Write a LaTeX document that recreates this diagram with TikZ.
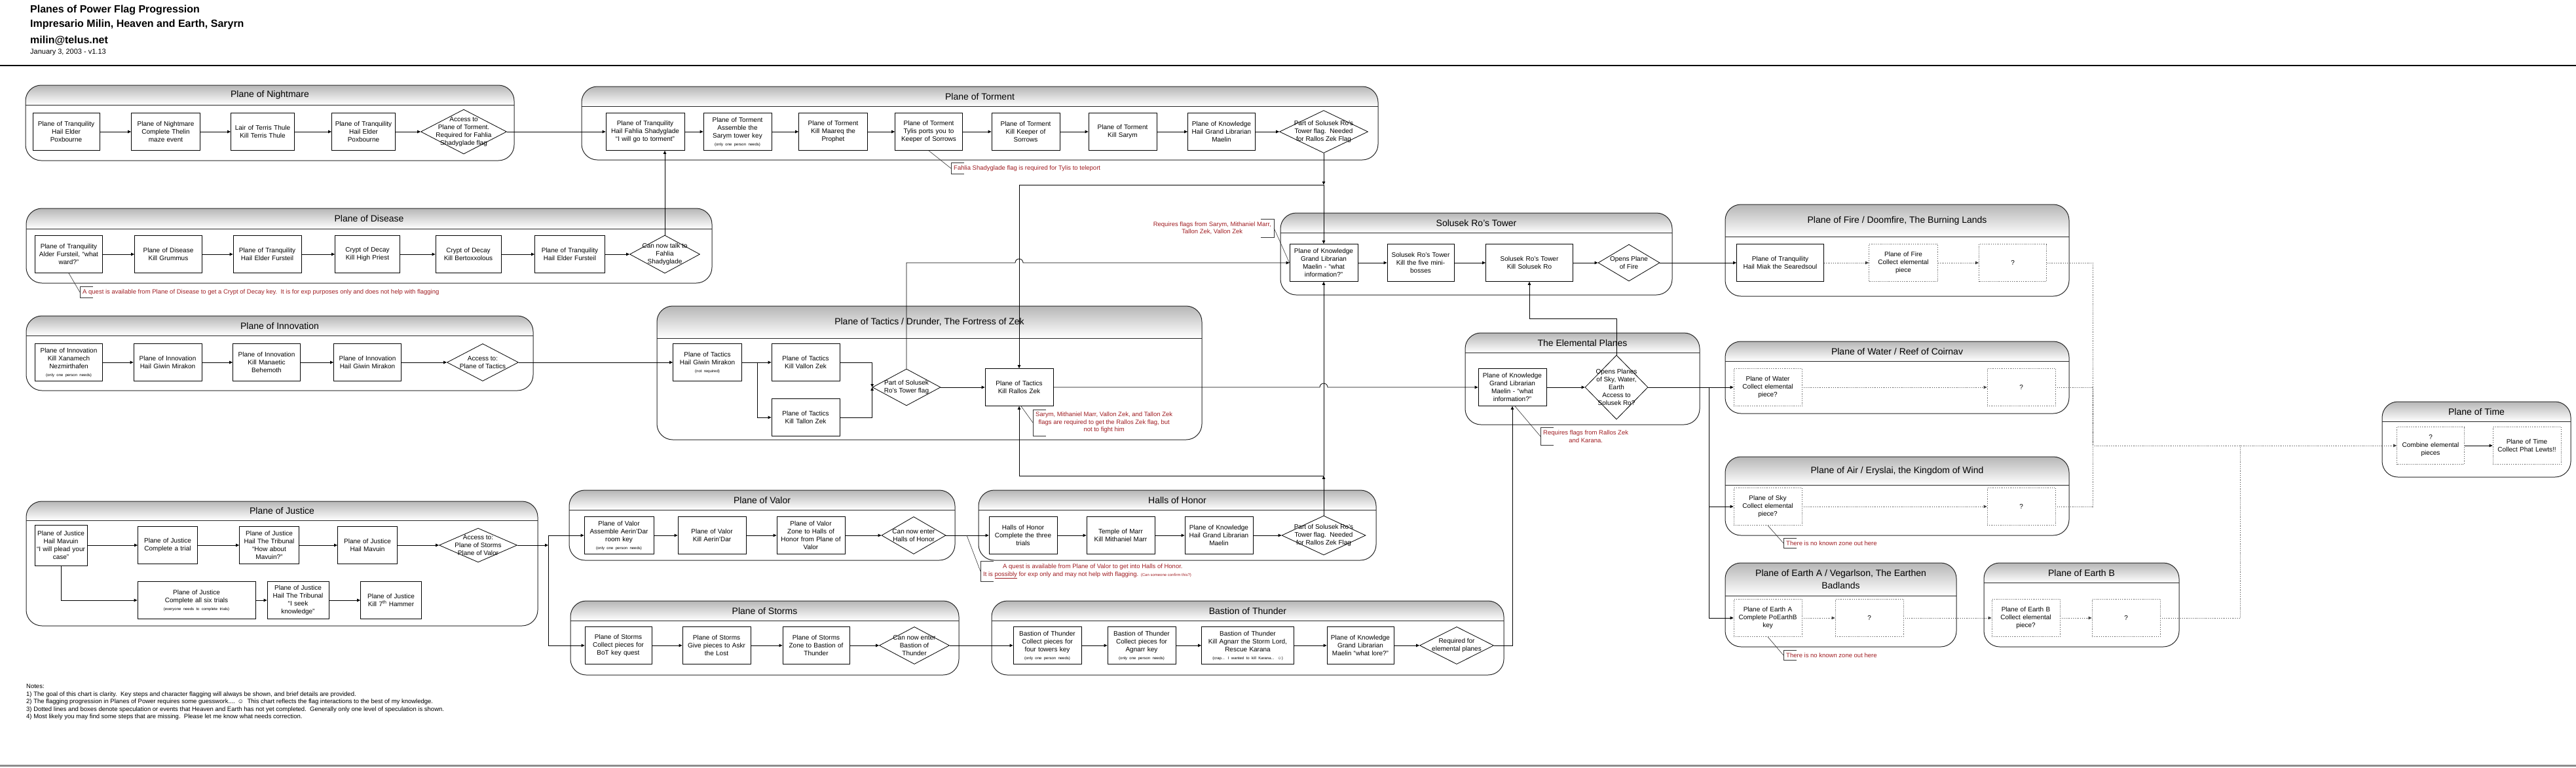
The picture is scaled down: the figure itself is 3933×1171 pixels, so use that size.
\documentclass[tikz,border=0pt]{standalone}
\usepackage{fontspec}
\setmainfont{Liberation Sans}
\usetikzlibrary{shapes.geometric,arrows.meta}

\definecolor{notered}{RGB}{160,30,35}
\definecolor{lanegray}{RGB}{182,182,182}

\newcommand{\boxfont}{\fontsize{10}{12}\selectfont}
\newcommand{\tinyfont}{\fontsize{6}{7}\selectfont}
\newcommand{\lanefont}{\fontsize{14}{19}\selectfont}
\newcommand{\notefont}{\fontsize{9.5}{11.5}\selectfont}
\newcommand{\headfont}{\fontsize{16}{19}\bfseries\selectfont}
\newcommand{\datefont}{\fontsize{11}{13}\selectfont}

% lane: name, x1, y1, x2, y2, y of header line, title
\newcommand{\poplane}[7]{%
  \begin{scope}
    \clip[rounded corners=24pt] (#2,#3) rectangle (#4,#5);
    \fill[white] (#2,#3) rectangle (#4,#5);
    \shade[top color=lanegray, bottom color=white] (#2,#3) rectangle (#4,#6);
  \end{scope}
  \draw[lane] (#2,#3) rectangle (#4,#5);
  \draw[lane] (#2,#6) -- (#4,#6);
  \node[lanetitle] at ({(#2+#4)/2},{(#3+#6)/2}) (#1) {#7};
}

\begin{document}
\begin{tikzpicture}[x=1pt,y=-1pt,
  >={Triangle[length=5pt,width=4.5pt]},
  lane/.style={draw=black!85, line width=1pt, rounded corners=24pt},
  lanetitle/.style={font=\lanefont, align=center, inner sep=0pt},
  task/.style={draw, fill=white, line width=0.8pt, align=center, font=\boxfont,
    inner xsep=0pt, inner ysep=1pt, text width=#1, minimum width=#1, minimum height=57},
  task/.default=104pt,
  spec/.style={task=#1, dotted, draw=black!70},
  spec/.default=104pt,
  dia/.style 2 args={draw, fill=white, diamond, line width=0.8pt, inner sep=0pt,
    minimum width=#1, minimum height=#2},
  dtext/.style={align=center, font=\boxfont, inner sep=0pt},
  note/.style={text=notered, font=\notefont, align=center, inner xsep=4pt, inner ysep=4pt},
  bracket/.style={draw=black!80, line width=0.6pt},
  flow/.style={->, line width=0.8pt},
  guess/.style={dotted, line width=0.8pt, draw=black!75}]

\useasboundingbox (0,0) rectangle (3933,1171);

% Heading
\node[anchor=west, font=\headfont, inner sep=0pt] at (46,15) (title) {Planes of Power Flag Progression};
\node[anchor=west, font=\headfont, inner sep=0pt] at (46,37) (guild) {Impresario Milin, Heaven and Earth, Saryrn};
\node[anchor=west, font=\headfont, inner sep=0pt] at (46,62) (email) {milin@telus.net};
\node[anchor=west, font=\datefont, inner sep=0pt] at (46,80) (date) {January 3, 2003 - v1.13};
\draw[line width=2.5pt] (0,100) -- (3933,100);
\draw[line width=3pt, black!45] (0,1168) -- (3933,1168);

% Lanes
\poplane{nightmare}{39}{130}{785}{245}{160}{Plane of Nightmare}
\poplane{torment}{888}{132}{2104}{244}{162}{Plane of Torment}
\poplane{disease}{40}{318}{1087}{432}{349}{Plane of Disease}
\poplane{innovation}{40}{482}{814}{596}{512}{Plane of Innovation}
\poplane{tactics}{1003}{467}{1835}{671}{516}{Plane of Tactics / Drunder, The Fortress of Zek}
\poplane{solusek}{1955}{325}{2553}{450}{355}{Solusek Ro's Tower}
\poplane{fire}{2634}{312}{3159}{452}{361}{Plane of Fire / Doomfire, The Burning Lands}
\poplane{elemental}{2237}{508}{2595}{648}{538}{The Elemental Planes}
\poplane{water}{2634}{521}{3159}{631}{551}{Plane of Water / Reef of Coirnav}
\poplane{air}{2634}{697}{3159}{817}{740}{Plane of Air / Eryslai, the Kingdom of Wind}
\poplane{eartha}{2634}{859}{2987}{987}{909}{Plane of Earth A / Vegarlson, The Earthen\\Badlands}
\poplane{earthb}{3029}{859}{3327}{987}{889}{Plane of Earth B}
\poplane{time}{3637}{613}{3925}{728}{643}{Plane of Time}
\poplane{justice}{40}{765}{821}{955}{794}{Plane of Justice}
\poplane{valor}{869}{748}{1458}{855}{778}{Plane of Valor}
\poplane{halls}{1494}{748}{2101}{855}{778}{Halls of Honor}
\poplane{storms}{871}{917}{1464}{1030}{947}{Plane of Storms}
\poplane{bastion}{1514}{917}{2296}{1030}{947}{Bastion of Thunder}

% Plane of Nightmare
\node[task=102pt] at (101,201) (nm_hail) {Plane of Tranquility\\Hail Elder\\Poxbourne};
\node[task=105pt] at (253,201) (nm_maze) {Plane of Nightmare\\Complete Thelin\\maze event};
\node[task=97pt] at (401,201) (nm_terris) {Lair of Terris Thule\\Kill Terris Thule};
\node[task=97pt] at (555,201) (nm_hail2) {Plane of Tranquility\\Hail Elder\\Poxbourne};
\node[dia={131}{68}, label={[dtext]center:{Access to\\Plane of Torment.\\Required for Fahlia\\Shadyglade flag}}] at (708,201) (nm_access) {};

% Plane of Torment
\node[task=120pt] at (985,201) (tor_hail) {Plane of Tranquility\\Hail Fahlia Shadyglade\\“I will go to torment”};
\node[task] at (1126,201) (tor_key) {Plane of Torment\\Assemble the\\Sarym tower key\\{\tinyfont (only one person needs)}};
\node[task=105pt] at (1272,201) (tor_maareq) {Plane of Torment\\Kill Maareq the\\Prophet};
\node[task=103pt] at (1418,201) (tor_tylis) {Plane of Torment\\Tylis ports you to\\Keeper of Sorrows};
\node[task] at (1566,201) (tor_keeper) {Plane of Torment\\Kill Keeper of\\Sorrows};
\node[task] at (1714,201) (tor_sarym) {Plane of Torment\\Kill Sarym};
\node[task=103pt] at (1865,201) (tor_maelin) {Plane of Knowledge\\Hail Grand Librarian\\Maelin};
\node[dia={135}{65}, label={[dtext]center:{Part of Solusek Ro's\\Tower flag.\ \ Needed\\for Rallos Zek Flag}}] at (2021,201) (tor_flag) {};
\node[note, anchor=west] at (1452,257) (tor_note) {Fahlia Shadyglade flag is required for Tylis to teleport};
\coordinate (tor_split) at (2021,282);

% Plane of Disease
\node[task=103pt] at (105,388) (dis_alder) {Plane of Tranquility\\Alder Fursteil, “what\\ward?”};
\node[task=103pt] at (257,388) (dis_grummus) {Plane of Disease\\Kill Grummus};
\node[task] at (408,388) (dis_hail) {Plane of Tranquility\\Hail Elder Fursteil};
\node[task=99pt] at (561,388) (dis_priest) {Crypt of Decay\\Kill High Priest};
\node[task=100pt] at (715,388) (dis_bertox) {Crypt of Decay\\Kill Bertoxxolous};
\node[task=107pt] at (870,388) (dis_hail2) {Plane of Tranquility\\Hail Elder Fursteil};
\node[dia={107}{58}, label={[dtext]center:{Can now talk to\\Fahlia\\Shadyglade}}] at (1015,388) (dis_fahlia) {};
\node[note, anchor=west] at (122,446) (dis_note) {A quest is available from Plane of Disease to get a Crypt of Decay key.\ \ It is for exp purposes only and does not help with flagging};

% Plane of Innovation
\node[task=103pt] at (105,553) (inn_xana) {Plane of Innovation\\Kill Xanamech\\Nezmirthafen\\{\tinyfont (only one person needs)}};
\node[task] at (256,553) (inn_hail) {Plane of Innovation\\Hail Giwin Mirakon};
\node[task=103pt] at (407,553) (inn_behemoth) {Plane of Innovation\\Kill Manaetic\\Behemoth};
\node[task=103pt] at (561,553) (inn_hail2) {Plane of Innovation\\Hail Giwin Mirakon};
\node[dia={109}{57}, label={[dtext]center:{Access to:\\Plane of Tactics}}] at (737,553) (inn_access) {};

% Plane of Tactics
\node[task=105pt] at (1080,553) (tac_hail) {Plane of Tactics\\Hail Giwin Mirakon\\{\tinyfont (not required)}};
\node[task] at (1230,553) (tac_vallon) {Plane of Tactics\\Kill Vallon Zek};
\node[task] at (1230,637) (tac_tallon) {Plane of Tactics\\Kill Tallon Zek};
\node[dia={104}{56}, label={[dtext]center:{Part of Solusek\\Ro's Tower flag}}] at (1384,591) (tac_flag) {};
\node[task] at (1556,591) (tac_rallos) {Plane of Tactics\\Kill Rallos Zek};
\node[note, anchor=west] at (1577,645) (tac_note) {Sarym, Mithaniel Marr, Vallon Zek, and Tallon Zek\\flags are required to get the Rallos Zek flag, but\\not to fight him};

% Solusek Ro's Tower
\node[task] at (2021,401) (sol_maelin) {Plane of Knowledge\\Grand Librarian\\Maelin - “what\\information?”};
\node[task=102pt] at (2169,401) (sol_minis) {Solusek Ro's Tower\\Kill the five mini-\\bosses};
\node[task=133pt] at (2335,401) (sol_ro) {Solusek Ro's Tower\\Kill Solusek Ro};
\node[dia={94}{56}, label={[dtext]center:{Opens Plane\\of Fire}}] at (2487,401) (sol_fire) {};
\node[note, anchor=east] at (1945,348) (sol_note) {Requires flags from Sarym, Mithaniel Marr,\\Tallon Zek, Vallon Zek};

% Plane of Fire
\node[task=133pt] at (2718,401) (fire_miak) {Plane of Tranquility\\Hail Miak the Searedsoul};
\node[spec=105pt] at (2906,401) (fire_piece) {Plane of Fire\\Collect elemental\\piece};
\node[spec=103pt] at (3073,401) (fire_next) {?};

% The Elemental Planes
\node[task] at (2309,591) (ele_maelin) {Plane of Knowledge\\Grand Librarian\\Maelin - “what\\information?”};
\node[dia={96}{98}, label={[dtext]center:{Opens Planes\\of Sky, Water,\\Earth\\Access to\\Solusek Ro?}}] at (2468,591) (ele_opens) {};
\node[note, anchor=west] at (2352,666) (ele_note) {Requires flags from Rallos Zek\\and Karana.};
\coordinate (ele_split) at (2609,591);

% Water, Air, Earth
\node[spec] at (2699,591) (water_piece) {Plane of Water\\Collect elemental\\piece?};
\node[spec] at (3086,591) (water_next) {?};
\node[spec] at (2699,773) (air_piece) {Plane of Sky\\Collect elemental\\piece?};
\node[spec] at (3086,773) (air_next) {?};
\node[note, anchor=west] at (2723,829) (air_note) {There is no known zone out here};
\node[spec] at (2699,943) (eartha_key) {Plane of Earth A\\Complete PoEarthB\\key};
\node[spec] at (2854,943) (eartha_next) {?};
\node[note, anchor=west] at (2723,1000) (eartha_note) {There is no known zone out here};
\node[spec] at (3093,943) (earthb_piece) {Plane of Earth B\\Collect elemental\\piece?};
\node[spec] at (3246,943) (earthb_next) {?};

% Plane of Time
\node[spec=103pt] at (3711,680) (time_combine) {?\\Combine elemental\\pieces};
\node[spec] at (3858,680) (time_lewts) {Plane of Time\\Collect Phat Lewts!!};
\coordinate (time_join) at (3195,680);
\coordinate (earth_join) at (3420,680);

% Plane of Justice
\node[task=80pt, minimum height=62] at (93,832) (jus_mavuin) {Plane of Justice\\Hail Mavuin\\“I will plead your\\case”};
\node[task=91pt] at (256,832) (jus_trial) {Plane of Justice\\Complete a trial};
\node[task=91pt] at (411,832) (jus_tribunal) {Plane of Justice\\Hail The Tribunal\\“How about\\Mavuin?”};
\node[task=91pt] at (561,832) (jus_mavuin2) {Plane of Justice\\Hail Mavuin};
\node[dia={119}{52}, label={[dtext]center:{Access to:\\Plane of Storms\\Plane of Valor}}] at (730,832) (jus_access) {};
\node[task=180pt] at (300,916) (jus_six) {Plane of Justice\\Complete all six trials\\{\tinyfont (everyone needs to complete trials)}};
\node[task=94pt] at (455,916) (jus_seek) {Plane of Justice\\Hail The Tribunal\\“I seek\\knowledge”};
\node[task=93pt] at (597,916) (jus_hammer) {Plane of Justice\\Kill 7\textsuperscript{th} Hammer};
\coordinate (jus_split) at (837,832);

% Plane of Valor
\node[task=106pt] at (945,817) (val_key) {Plane of Valor\\Assemble Aerin'Dar\\room key\\{\tinyfont (only one person needs)}};
\node[task] at (1087,817) (val_aerin) {Plane of Valor\\Kill Aerin'Dar};
\node[task] at (1238,817) (val_zone) {Plane of Valor\\Zone to Halls of\\Honor from Plane of\\Valor};
\node[dia={98}{57}, label={[dtext]center:{Can now enter\\Halls of Honor}}] at (1395,817) (val_enter) {};
\coordinate (hoh_quest) at (1476,817);

% Halls of Honor
\node[task] at (1562,817) (hoh_trials) {Halls of Honor\\Complete the three\\trials};
\node[task] at (1711,817) (hoh_marr) {Temple of Marr\\Kill Mithaniel Marr};
\node[task] at (1861,817) (hoh_maelin) {Plane of Knowledge\\Hail Grand Librarian\\Maelin};
\node[dia={128}{60}, label={[dtext]center:{Part of Solusek Ro's\\Tower flag.\ \ Needed\\for Rallos Zek Flag}}] at (2021,817) (hoh_flag) {};
\node[note, anchor=west, align=left] at (1497,872) (hoh_note) {\hspace*{30pt}A quest is available from Plane of Valor to get into Halls of Honor.\\It is \underline{possibly} for exp only and may not help with flagging. {\tinyfont (Can someone confirm this?)}};
\coordinate (hoh_split) at (2021,726);

% Plane of Storms
\node[task=102pt] at (944,985) (sto_collect) {Plane of Storms\\Collect pieces for\\BoT key quest};
\node[task] at (1094,985) (sto_askr) {Plane of Storms\\Give pieces to Askr\\the Lost};
\node[task=102pt] at (1246,985) (sto_zone) {Plane of Storms\\Zone to Bastion of\\Thunder};
\node[dia={107}{57}, label={[dtext]center:{Can now enter\\Bastion of\\Thunder}}] at (1396,985) (sto_enter) {};

% Bastion of Thunder
\node[task] at (1599,985) (bot_towers) {Bastion of Thunder\\Collect pieces for\\four towers key\\{\tinyfont (only one person needs)}};
\node[task] at (1743,985) (bot_agnarr) {Bastion of Thunder\\Collect pieces for\\Agnarr key\\{\tinyfont (only one person needs)}};
\node[task=141pt] at (1905,985) (bot_karana) {Bastion of Thunder\\Kill Agnarr the Storm Lord,\\Rescue Karana\\{\tinyfont (crap... I wanted to kill Karana... ☺)}};
\node[task=102pt] at (2077,985) (bot_maelin) {Plane of Knowledge\\Grand Librarian\\Maelin “what lore?”};
\node[dia={113}{57}, label={[dtext]center:{Required for\\elemental planes}}] at (2224,985) (bot_required) {};

% Notes
\node[anchor=north west, align=left, font=\notefont, inner sep=0pt] at (40,1044) (notes) {Notes:\\1) The goal of this chart is clarity.\ \ Key steps and character flagging will always be shown, and brief details are provided.\\2) The flagging progression in Planes of Power requires some guesswork.... ☺\ \ This chart reflects the flag interactions to the best of my knowledge.\\3) Dotted lines and boxes denote speculation or events that Heaven and Earth has not yet completed.\ \ Generally only one level of speculation is shown.\\4) Most likely you may find some steps that are missing.\ \ Please let me know what needs correction.};

% Lines inside the lanes
\draw[flow] (nm_hail) -- (nm_maze);
\draw[flow] (nm_maze) -- (nm_terris);
\draw[flow] (nm_terris) -- (nm_hail2);
\draw[flow] (nm_hail2) -- (nm_access);
\draw[flow] (nm_access) -- (tor_hail);
\draw[flow] (tor_hail) -- (tor_key);
\draw[flow] (tor_key) -- (tor_maareq);
\draw[flow] (tor_maareq) -- (tor_tylis);
\draw[flow] (tor_tylis) -- (tor_keeper);
\draw[flow] (tor_keeper) -- (tor_sarym);
\draw[flow] (tor_sarym) -- (tor_maelin);
\draw[flow] (tor_maelin) -- (tor_flag);
\draw[flow] (dis_alder) -- (dis_grummus);
\draw[flow] (dis_grummus) -- (dis_hail);
\draw[flow] (dis_hail) -- (dis_priest);
\draw[flow] (dis_priest) -- (dis_bertox);
\draw[flow] (dis_bertox) -- (dis_hail2);
\draw[flow] (dis_hail2) -- (dis_fahlia);
\draw[flow] (inn_xana) -- (inn_hail);
\draw[flow] (inn_hail) -- (inn_behemoth);
\draw[flow] (inn_behemoth) -- (inn_hail2);
\draw[flow] (inn_hail2) -- (inn_access);
\draw[flow] (inn_access) -- (tac_hail);
\draw[flow] (tac_hail) -- (tac_vallon);
\draw[flow] (tac_hail.east) -- ++(23,0) |- (tac_tallon);
\draw[flow] (tac_vallon.east) -| (tac_flag.west);
\draw[flow] (tac_tallon.east) -| (tac_flag.west);
\draw[flow] (tac_flag) -- (tac_rallos);
\draw[flow] (sol_maelin) -- (sol_minis);
\draw[flow] (sol_minis) -- (sol_ro);
\draw[flow] (sol_ro) -- (sol_fire);
\draw[flow] (sol_fire) -- (fire_miak);
\draw[guess,->] (fire_miak) -- (fire_piece);
\draw[guess,->] (fire_piece) -- (fire_next);
\draw[flow] (ele_maelin) -- (ele_opens);
\draw[flow] (ele_opens) -- (water_piece);
\draw[flow] (ele_split) |- (air_piece);
\draw[flow] (ele_split) |- (eartha_key);
\draw[guess,->] (water_piece) -- (water_next);
\draw[guess,->] (air_piece) -- (air_next);
\draw[guess,->] (eartha_key) -- (eartha_next);
\draw[guess,->] (eartha_next) -- (earthb_piece);
\draw[guess,->] (earthb_piece) -- (earthb_next);
\draw[flow] (time_combine) -- (time_lewts);
\draw[flow] (jus_mavuin) -- (jus_trial);
\draw[flow] (jus_trial) -- (jus_tribunal);
\draw[flow] (jus_tribunal) -- (jus_mavuin2);
\draw[flow] (jus_mavuin2) -- (jus_access);
\draw[flow] (jus_mavuin) |- (jus_six);
\draw[flow] (jus_six) -- (jus_seek);
\draw[flow] (jus_seek) -- (jus_hammer);
\draw[flow] (val_key) -- (val_aerin);
\draw[flow] (val_aerin) -- (val_zone);
\draw[flow] (val_zone) -- (val_enter);
\draw[flow] (val_enter) -- (hoh_trials);
\draw[flow] (hoh_trials) -- (hoh_marr);
\draw[flow] (hoh_marr) -- (hoh_maelin);
\draw[flow] (hoh_maelin) -- (hoh_flag);
\draw[flow] (sto_collect) -- (sto_askr);
\draw[flow] (sto_askr) -- (sto_zone);
\draw[flow] (sto_zone) -- (sto_enter);
\draw[flow] (sto_enter) -- (bot_towers);
\draw[flow] (bot_towers) -- (bot_agnarr);
\draw[flow] (bot_agnarr) -- (bot_karana);
\draw[flow] (bot_karana) -- (bot_maelin);
\draw[flow] (bot_maelin) -- (bot_required);

% Lines between the lanes
\draw[flow] (dis_fahlia.north) -- (dis_fahlia.north |- tor_hail.south);
\draw[flow] (tor_flag) -- (tor_split);
\draw[flow] (tor_split) -- (sol_maelin);
\draw[flow] (tor_split) -| (tac_rallos);
\draw[flow] (tac_flag.north) |- (1550,401) arc (180:0:6pt) -- (sol_maelin);
\draw[flow] (tac_rallos) -- (2015,591) arc (180:0:6pt) -- (ele_maelin);
\draw[flow] (hoh_flag) -- (hoh_split);
\draw[flow] (hoh_split) -- (sol_maelin);
\draw[flow] (hoh_split) -| (tac_rallos);
\draw[flow] (ele_opens.north) -- ++(0,-55) -| (sol_ro.south);
\draw[flow] (bot_required) -| (ele_maelin);
\draw[flow] (jus_access) -- (jus_split);
\draw[flow] (jus_split) |- (val_key);
\draw[flow] (jus_split) |- (sto_collect);
\draw[guess] (fire_next) -| (time_join);
\draw[guess] (water_next) -| (time_join);
\draw[guess] (air_next) -| (time_join);
\draw[guess] (earthb_next) -| (earth_join);
\draw[guess,->] (time_join) -- (time_combine);

% Call-outs
\draw[bracket] ([xshift=20pt]tor_note.north west) -- (tor_note.north west) -- (tor_note.south west) -- ([xshift=20pt]tor_note.south west);
\draw[bracket] (tor_tylis.south) -- (tor_note.west);
\draw[bracket] ([xshift=20pt]dis_note.north west) -- (dis_note.north west) -- (dis_note.south west) -- ([xshift=20pt]dis_note.south west);
\draw[bracket] (dis_alder.south) -- (dis_note.west);
\draw[bracket] ([xshift=20pt]tac_note.north west) -- (tac_note.north west) -- (tac_note.south west) -- ([xshift=20pt]tac_note.south west);
\draw[bracket] ([xshift=3pt]tac_rallos.south) -- (tac_note.west);
\draw[bracket] ([xshift=-20pt]sol_note.north east) -- (sol_note.north east) -- (sol_note.south east) -- ([xshift=-20pt]sol_note.south east);
\draw[bracket] (sol_note.east) -- (sol_maelin.west);
\draw[bracket] ([xshift=20pt]ele_note.north west) -- (ele_note.north west) -- (ele_note.south west) -- ([xshift=20pt]ele_note.south west);
\draw[bracket] ([xshift=4pt]ele_maelin.south) -- (ele_note.west);
\draw[bracket] ([xshift=20pt]air_note.north west) -- (air_note.north west) -- (air_note.south west) -- ([xshift=20pt]air_note.south west);
\draw[bracket] (air_piece.south) -- (air_note.west);
\draw[bracket] ([xshift=20pt]eartha_note.north west) -- (eartha_note.north west) -- (eartha_note.south west) -- ([xshift=20pt]eartha_note.south west);
\draw[bracket] (eartha_key.south) -- (eartha_note.west);
\draw[bracket] ([xshift=20pt]hoh_note.north west) -- (hoh_note.north west) -- (hoh_note.south west) -- ([xshift=20pt]hoh_note.south west);
\draw[bracket] (hoh_quest) -- (hoh_note.west);

\end{tikzpicture}
\end{document}
